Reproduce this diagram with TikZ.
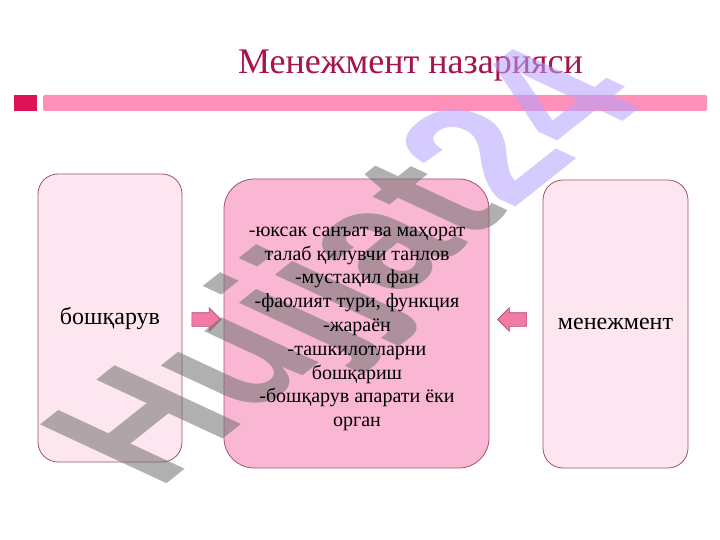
\documentclass[tikz,border=0pt]{standalone}
\usepackage{fontspec}
\setmainfont{Liberation Serif}
\newfontfamily\wmfont{Liberation Sans}
\usetikzlibrary{shapes.arrows}
\definecolor{titlecol}{HTML}{A8124E}
\definecolor{sqcol}{HTML}{DC1457}
\definecolor{barcol}{HTML}{FF90BA}
\definecolor{paleFill}{HTML}{FDE6EF}
\definecolor{midFill}{HTML}{F9B7D3}
\definecolor{boxLine}{HTML}{9C5670}
\definecolor{arrFill}{HTML}{F27AA6}
\definecolor{arrLine}{HTML}{B24872}
\definecolor{wmGray}{HTML}{707070}
\definecolor{wmLav}{HTML}{B4A2FF}
\tikzset{
  sidebox/.style={draw=boxLine, line width=0.8pt, fill=paleFill, rounded corners=20pt, inner sep=0pt},
  midbox/.style={draw=boxLine, line width=0.8pt, fill=midFill, rounded corners=30pt, inner sep=0pt},
  blockarrow/.style={single arrow, draw=arrLine, fill=arrFill, line width=0.6pt,
    inner sep=6.5pt, minimum height=29pt, single arrow head extend=5pt,
    single arrow head indent=0pt},
  boxtext/.style={font=\fontsize{24}{28}\selectfont, text=black},
  wmtext/.style={font=\wmfont\bfseries\fontsize{162}{162}\selectfont, inner sep=0pt, opacity=0.55},
}
\begin{document}
\begin{tikzpicture}[x=1pt,y=-1pt]
\useasboundingbox (0,0) rectangle (720,540);
\fill[white] (0,0) rectangle (720,540);
% title
\node[font=\fontsize{36}{40}\selectfont, text=titlecol, anchor=base] (title) at (410.5,74) {Менежмент назарияси};
% header bar
\fill[sqcol] (14,95) rectangle (37,111);
\fill[barcol, rounded corners=1.5pt] (43,95) rectangle (707,111);
% boxes
\node[sidebox, minimum width=144pt, minimum height=288pt] (left) at (110,318) {};
\node[midbox, minimum width=265pt, minimum height=289pt] (mid) at (356.5,323.5) {};
\node[sidebox, minimum width=145pt, minimum height=288pt] (right) at (615.5,324) {};
% arrows
\node[blockarrow] (arrL) at (203,319.5) {};
\node[blockarrow, shape border rotate=180] (arrR) at (515.5,319.5) {};
% watermark
\begin{scope}[shift={(358,272)}, rotate=38.5, xslant=-0.5, yscale=1.12, transform shape]
\node[wmtext] (wm) at (0,0) {\textcolor{wmGray}{Hujjat}\textcolor{wmLav}{ 24}};
\end{scope}
% texts
\node[boxtext] (ltext) at (left.center) {бошқарув};
\node[boxtext] (rtext) at (right.center) {менежмент};
\node[font=\fontsize{20}{23.8}\selectfont, align=center, text=black] (mtext) at (357,329) {%
-юксак санъат ва маҳорат\\
талаб қилувчи танлов\\
-мустақил фан\\
-фаолият тури, функция\\
-жараён\\
-ташкилотларни\\
бошқариш\\
-бошқарув апарати ёки\\
орган};
\end{tikzpicture}
\end{document}
